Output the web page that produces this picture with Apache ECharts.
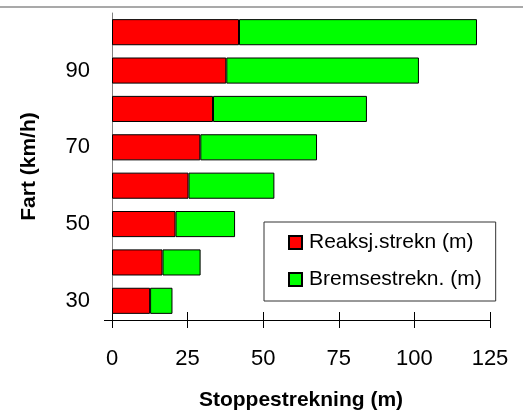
<!DOCTYPE html>
<html>
<head>
<meta charset="utf-8">
<script src="https://cdn.jsdelivr.net/npm/echarts@6/dist/echarts.min.js"></script>
<style>
  html, body { margin: 0; padding: 0; background: #fff; }
  #chart { width: 523px; height: 414px; }
</style>
</head>
<body>
<div id="chart"></div>
<script>
// fart (km/h)
const speeds = ['30', '40', '50', '60', '70', '80', '90', '100'];
// reaksjonsstrekning (m)
const reaksjon = [12.6, 16.7, 21.0, 25.3, 29.2, 33.4, 37.8, 42.0];
// bremsestrekning (m)
const bremse = [7.4, 12.6, 19.7, 28.4, 38.6, 50.9, 63.7, 78.7];
const xTicks = [0, 25, 50, 75, 100, 125];

const chart = echarts.init(document.getElementById('chart'));

const gridPos = { left: 112, right: 33, top: 13, bottom: 94 };

const option = {
  animation: false,
  backgroundColor: '#fff',
  textStyle: { fontFamily: 'Arial, "Liberation Sans", sans-serif' },
  grid: Object.assign({ containLabel: false, outerBoundsMode: 'none' }, gridPos),
  legend: {
    orient: 'vertical',
    left: 264,
    top: 222,
    backgroundColor: '#fff',
    borderColor: '#333',
    borderWidth: 1,
    padding: [10, 14, 11, 24],
    itemGap: 16,
    itemWidth: 13,
    itemHeight: 13,
    icon: 'rect',
    textStyle: { fontSize: 21, color: '#000', padding: [0, 0, 0, 2] },
    data: ['Reaksj.strekn (m)', 'Bremsestrekn. (m)']
  },
  xAxis: [
    {
      type: 'value',
      position: 'bottom',
      min: xTicks[0],
      max: xTicks[xTicks.length - 1],
      interval: 25,
      name: 'Stoppestrekning (m)',
      nameLocation: 'middle',
      nameGap: 70,
      nameTextStyle: { fontSize: 21, fontWeight: 'bold', color: '#000' },
      axisLine: { show: true, onZero: false, lineStyle: { color: '#000', width: 1 } },
      axisTick: { show: true, length: 8, lineStyle: { color: '#000' } },
      axisLabel: { fontSize: 22, color: '#000', margin: 28 },
      splitLine: { show: false }
    },
    {
      type: 'value',
      position: 'bottom',
      min: xTicks[0],
      max: xTicks[xTicks.length - 1],
      interval: 25,
      axisLine: { show: false, onZero: false },
      axisTick: { show: true, inside: true, length: 8, lineStyle: { color: '#000' } },
      axisLabel: { show: false },
      splitLine: { show: false }
    }
  ],
  yAxis: {
    type: 'category',
    data: speeds,
    name: 'Fart (km/h)',
    nameLocation: 'middle',
    nameGap: 72,
    nameTextStyle: { fontSize: 21, fontWeight: 'bold', color: '#000' },
    axisLine: { show: true, lineStyle: { color: '#808080', width: 1 } },
    axisTick: { show: false },
    axisLabel: { fontSize: 22, color: '#000', margin: 22, interval: 1 },
    splitLine: { show: false },
    splitArea: { show: false }
  },
  series: [
    {
      name: 'Reaksj.strekn (m)',
      type: 'bar',
      stack: 'stopp',
      barCategoryGap: '32%',
      itemStyle: { color: '#ff0000', borderColor: '#000', borderWidth: 1 },
      data: reaksjon
    },
    {
      name: 'Bremsestrekn. (m)',
      type: 'bar',
      stack: 'stopp',
      barCategoryGap: '32%',
      itemStyle: { color: '#00ff00', borderColor: '#000', borderWidth: 1 },
      data: bremse
    }
  ]
};

chart.setOption(option);

// x-aksens linje, litt forlenget til venstre som i originalen
const axisY = chart.getHeight() - gridPos.bottom;
const xEnd = chart.getWidth() - gridPos.right;
chart.setOption({
  graphic: [
    {
      type: 'line',
      zlevel: 1,
      shape: { x1: 0, y1: 7, x2: chart.getWidth(), y2: 7 },
      style: { stroke: '#8c8c8c', lineWidth: 1.5 }
    },
    {
      type: 'rect',
      zlevel: 1,
      shape: { x: gridPos.left - 8, y: axisY, width: xEnd - gridPos.left + 8, height: 1 },
      style: { fill: '#000' }
    }
  ]
});
</script>
</body>
</html>
